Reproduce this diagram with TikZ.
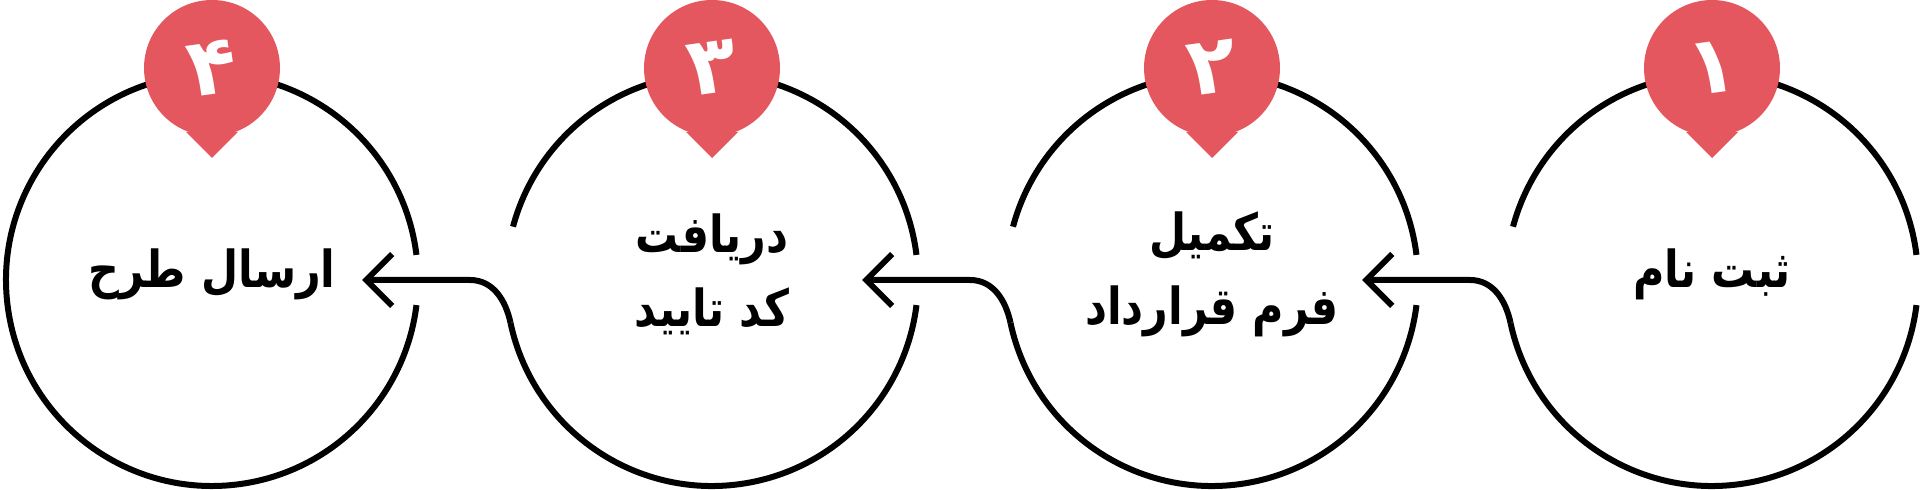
\documentclass[tikz,border=0pt]{standalone}
\usepackage{fontspec}
\newfontfamily\fafont[Script=Arabic,FakeStretch=0.84]{DejaVu Sans}
\newfontfamily\numfont[Script=Arabic]{DejaVu Sans}
\TeXXeTstate=1
\usetikzlibrary{arrows.meta}
\definecolor{badgered}{RGB}{228,87,94}
\begin{document}
\begin{tikzpicture}[x=0.02cm,y=0.02cm]
        \tikzstyle{ring} = [line width=0.12cm, black]
        \tikzstyle{arrow} = [line width=0.12cm, -{Straight Barb[length=0.52cm,width=1.04cm]}]
        \tikzstyle{badge} = [circle, fill=badgered, minimum size=2.72cm, inner sep=0pt, text=white, font=\numfont\bfseries\fontsize{46}{46}\selectfont]
        \tikzstyle{label} = [align=center, font=\fafont\bfseries\fontsize{29}{42}\selectfont]
        \useasboundingbox (0,0) rectangle (1920,490);

                % centres of the four steps, right to left
                \coordinate (c1) at (1712,210);
                \coordinate (c2) at (1212,210);
                \coordinate (c3) at (712,210);
                \coordinate (c4) at (212,210);

                % rings with a gap on the right
                \draw[ring] (c1) ++(7:206) arc[start angle=7, end angle=165, radius=206];
                \draw[ring] (c1) ++(192:206) coordinate (j1) arc[start angle=192, end angle=353, radius=206];
                \draw[ring] (c2) ++(7:206) arc[start angle=7, end angle=165, radius=206];
                \draw[ring] (c2) ++(192:206) coordinate (j2) arc[start angle=192, end angle=353, radius=206];
                \draw[ring] (c3) ++(7:206) arc[start angle=7, end angle=165, radius=206];
                \draw[ring] (c3) ++(192:206) coordinate (j3) arc[start angle=192, end angle=353, radius=206];
                \draw[ring] (c4) ++(7:206) arc[start angle=7, end angle=353, radius=206];

                % arrow tips inside the next ring
                \coordinate (a2) at (1362,210);
                \coordinate (a3) at (862,210);
                \coordinate (a4) at (362,210);

                \draw[arrow] (j1) to[out=102,in=0] (1470,210) -- (a2);
                \draw[arrow] (j2) to[out=102,in=0] (970,210) -- (a3);
                \draw[arrow] (j3) to[out=102,in=0] (470,210) -- (a4);

                % number badges
                \foreach \x/\n/\d in {1712/b1/۱, 1212/b2/۲, 712/b3/۳, 212/b4/۴} {
                        \fill[badgered] (\x-26,358) -- (\x,332) -- (\x+26,358) -- cycle;
                        \node (\n) [badge] at (\x,422) {\rotatebox{8}{\d}};
                }

                % step labels
                \node (t1) [label] at (1712,216) {\beginR ثبت نام\endR};
                \node (t2) [label] at (1212,216) {\beginR تکمیل\endR\\\beginR فرم قرارداد\endR};
                \node (t3) [label] at (712,216) {\beginR دریافت\endR\\\beginR کد تایید\endR};
                \node (t4) [label] at (212,216) {\beginR ارسال طرح\endR};
\end{tikzpicture}
\end{document}
